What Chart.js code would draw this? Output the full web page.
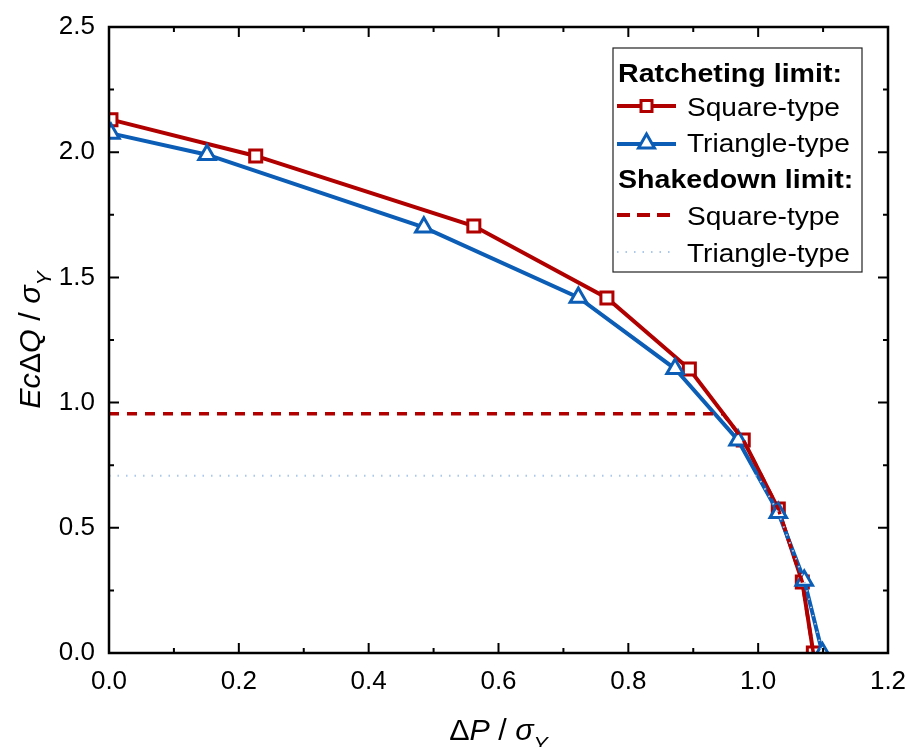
<!DOCTYPE html>
<html><head><meta charset="utf-8">
<script src="https://cdn.jsdelivr.net/npm/chart.js@4/dist/chart.umd.min.js"></script>
<style>html,body{margin:0;padding:0;background:#fff}#wrap{width:908px;height:747px}</style>
</head><body><div id="wrap"><canvas id="c" width="908" height="747"></canvas></div>
<script>
// ---- data ----
const squareX = [0.003, 0.226, 0.562, 0.767, 0.894, 0.977, 1.031, 1.068, 1.085];
const squareY = [2.13, 1.985, 1.705, 1.418, 1.134, 0.851, 0.575, 0.284, 0.0];
const triX    = [0.003, 0.151, 0.485, 0.723, 0.872, 0.969, 1.031, 1.071, 1.099];
const triY    = [2.075, 1.99, 1.70, 1.42, 1.135, 0.85, 0.56, 0.29, 0.0];
const shakeSqX  = [0, 0.946, 0.977, 1.031, 1.068, 1.085];
const shakeSqY  = [0.955, 0.955, 0.851, 0.575, 0.284, 0.0];
const shakeTriX = [0, 0.999, 1.031, 1.071, 1.099];
const shakeTriY = [0.708, 0.708, 0.56, 0.29, 0.0];
const xTicks = [0, 0.2, 0.4, 0.6, 0.8, 1.0, 1.2];
const yTicks = [0, 0.5, 1.0, 1.5, 2.0, 2.5];
const xMinor = [0.1, 0.3, 0.5, 0.7, 0.9, 1.1];
const yMinor = [0.25, 0.75, 1.25, 1.75, 2.25];
const legendTitles = ['Ratcheting limit:', 'Shakedown limit:'];
const seriesNames = ['Square-type', 'Triangle-type', 'Square-type', 'Triangle-type'];

const RED = '#b00000', BLUE = '#0b5db5', LBLUE = '#a9c8ea';
const FONT = '"Liberation Sans", Arial, sans-serif';

function pts(xs, ys) { return xs.map((x, i) => ({x: x, y: ys[i]})); }

function richText(ctx, segs, x, y, size, align, sx) {
  ctx.save();
  ctx.textBaseline = 'alphabetic';
  let w = 0;
  const meas = segs.map(s => {
    const fs = s.sub ? size * 0.7 : size;
    ctx.font = (s.it ? 'italic ' : '') + fs + 'px ' + FONT;
    const m = ctx.measureText(s.t).width;
    w += m; return m;
  });
  ctx.translate(x, y);
  ctx.scale(sx || 1, 1);
  let cx = align === 'center' ? -w / 2 : 0;
  segs.forEach((s, i) => {
    const fs = s.sub ? size * 0.7 : size;
    ctx.font = (s.it ? 'italic ' : '') + fs + 'px ' + FONT;
    ctx.fillText(s.t, cx, s.sub ? size * 0.38 : 0);
    cx += meas[i];
  });
  ctx.restore();
}

const decor = {
  id: 'decor',
  afterDatasetsDraw(chart) {
    const ctx = chart.ctx, a = chart.chartArea;
    const xs = chart.scales.x, ys = chart.scales.y;
    ctx.save();
    ctx.strokeStyle = '#000';
    ctx.lineWidth = 2;
    const tick = (v, len, axis) => {
      if (axis === 'x') {
        const p = xs.getPixelForValue(v);
        ctx.beginPath(); ctx.moveTo(p, a.bottom); ctx.lineTo(p, a.bottom - len);
        ctx.moveTo(p, a.top); ctx.lineTo(p, a.top + len); ctx.stroke();
      } else {
        const p = ys.getPixelForValue(v);
        ctx.beginPath(); ctx.moveTo(a.left, p); ctx.lineTo(a.left + len, p);
        ctx.moveTo(a.right, p); ctx.lineTo(a.right - len, p); ctx.stroke();
      }
    };
    xTicks.forEach(v => tick(v, 10, 'x'));
    xMinor.forEach(v => tick(v, 5, 'x'));
    yTicks.forEach(v => tick(v, 10, 'y'));
    yMinor.forEach(v => tick(v, 5, 'y'));
    ctx.lineWidth = 2.5;
    ctx.strokeRect(a.left, a.top, a.right - a.left, a.bottom - a.top);
    ctx.restore();
  },
  afterDraw(chart) {
    const ctx = chart.ctx, a = chart.chartArea;
    ctx.save();
    ctx.fillStyle = '#000';
    const cxm = (a.left + a.right) / 2;
    richText(ctx, [{t: '\u0394'}, {t: 'P', it: true}, {t: ' / '}, {t: '\u03c3', it: true}, {t: 'Y', it: true, sub: true}],
      cxm, 740, 29, 'center', 1.05);
    ctx.save();
    ctx.translate(40, (a.top + a.bottom) / 2);
    ctx.rotate(-Math.PI / 2);
    richText(ctx, [{t: 'Ec', it: true}, {t: '\u0394'}, {t: 'Q', it: true}, {t: ' / '}, {t: '\u03c3', it: true}, {t: 'Y', it: true, sub: true}],
      0, 0, 29, 'center', 1.05);
    ctx.restore();

    // legend
    const L = 613, T = 48, R = 862, B = 272;
    ctx.fillStyle = '#fff';
    ctx.fillRect(L, T, R - L, B - T);
    ctx.strokeStyle = '#222'; ctx.lineWidth = 1.2;
    ctx.strokeRect(L, T, R - L, B - T);
    ctx.fillStyle = '#000';
    const bold = (t, x, y) => {
      ctx.save(); ctx.translate(x, y); ctx.scale(1.1, 1);
      ctx.font = 'bold 26px ' + FONT; ctx.textBaseline = 'alphabetic';
      ctx.fillText(t, 0, 0); ctx.restore();
    };
    const reg = (t, x, y) => {
      ctx.save(); ctx.translate(x, y); ctx.scale(1.08, 1);
      ctx.font = '26px ' + FONT; ctx.textBaseline = 'alphabetic';
      ctx.fillText(t, 0, 0); ctx.restore();
    };
    bold(legendTitles[0], 618, 82);
    reg(seriesNames[0], 687, 116);
    reg(seriesNames[1], 687, 152);
    bold(legendTitles[1], 618, 188);
    reg(seriesNames[2], 687, 225);
    reg(seriesNames[3], 687, 262);

    const x0 = 617, x1 = 676, xm = (x0 + x1) / 2;
    ctx.strokeStyle = RED; ctx.lineWidth = 4;
    ctx.beginPath(); ctx.moveTo(x0, 106); ctx.lineTo(x1, 106); ctx.stroke();
    ctx.fillStyle = '#fff'; ctx.lineWidth = 3;
    ctx.fillRect(xm - 5.5, 100.5, 11, 11); ctx.strokeRect(xm - 5.5, 100.5, 11, 11);
    ctx.strokeStyle = BLUE; ctx.lineWidth = 4;
    ctx.beginPath(); ctx.moveTo(x0, 144); ctx.lineTo(x1, 144); ctx.stroke();
    ctx.lineWidth = 3;
    ctx.beginPath(); ctx.moveTo(xm, 134); ctx.lineTo(xm + 8, 148); ctx.lineTo(xm - 8, 148); ctx.closePath();
    ctx.fill(); ctx.stroke();
    ctx.strokeStyle = RED; ctx.lineWidth = 4; ctx.setLineDash([13, 7]);
    ctx.beginPath(); ctx.moveTo(x0, 215); ctx.lineTo(x1, 215); ctx.stroke();
    ctx.strokeStyle = LBLUE; ctx.lineWidth = 2; ctx.setLineDash([1.5, 7]);
    ctx.beginPath(); ctx.moveTo(x0, 252); ctx.lineTo(x1, 252); ctx.stroke();
    ctx.restore();
  }
};

new Chart(document.getElementById('c'), {
  type: 'scatter',
  data: {
    datasets: [
      {label: 'Ratcheting Square-type', data: pts(squareX, squareY), showLine: true,
       borderColor: RED, borderWidth: 4, pointStyle: 'rect', pointRadius: 8.5,
       pointBackgroundColor: '#fff', pointBorderColor: RED, pointBorderWidth: 3, order: 2},
      {label: 'Ratcheting Triangle-type', data: pts(triX, triY), showLine: true,
       borderColor: BLUE, borderWidth: 4, pointStyle: 'triangle', pointRadius: 9.5,
       pointBackgroundColor: '#fff', pointBorderColor: BLUE, pointBorderWidth: 3, order: 1},
      {label: 'Shakedown Square-type', data: pts(shakeSqX, shakeSqY), showLine: true,
       borderColor: RED, borderWidth: 3.5, borderDash: [10, 8], pointRadius: 0, order: 0},
      {label: 'Shakedown Triangle-type', data: pts(shakeTriX, shakeTriY), showLine: true,
       borderColor: LBLUE, borderWidth: 2, borderDash: [1.5, 7], pointRadius: 0, order: -1}
    ]
  },
  options: {
    responsive: false, animation: false, devicePixelRatio: 1,
    layout: {padding: {left: 0, top: 27, right: 20, bottom: 0}},
    plugins: {legend: {display: false}, tooltip: {enabled: false}},
    scales: {
      x: {type: 'linear', min: 0, max: 1.2,
          afterBuildTicks: s => { s.ticks = xTicks.map(v => ({value: v})); },
          afterFit: s => { s.height = 94; s.paddingLeft = 0; s.paddingRight = 0; },
          grid: {display: false, drawTicks: false}, border: {display: false},
          ticks: {color: '#000', padding: 13, maxRotation: 0, font: {size: 26, family: FONT},
                  callback: v => Number(v).toFixed(1)}},
      y: {type: 'linear', min: 0, max: 2.5,
          afterBuildTicks: s => { s.ticks = yTicks.map(v => ({value: v})); },
          afterFit: s => { s.width = 109; s.paddingTop = 0; s.paddingBottom = 0; },
          grid: {display: false, drawTicks: false}, border: {display: false},
          ticks: {color: '#000', padding: 14, font: {size: 26, family: FONT},
                  callback: v => Number(v).toFixed(1)}}
    }
  },
  plugins: [decor]
});
</script>
</body></html>
